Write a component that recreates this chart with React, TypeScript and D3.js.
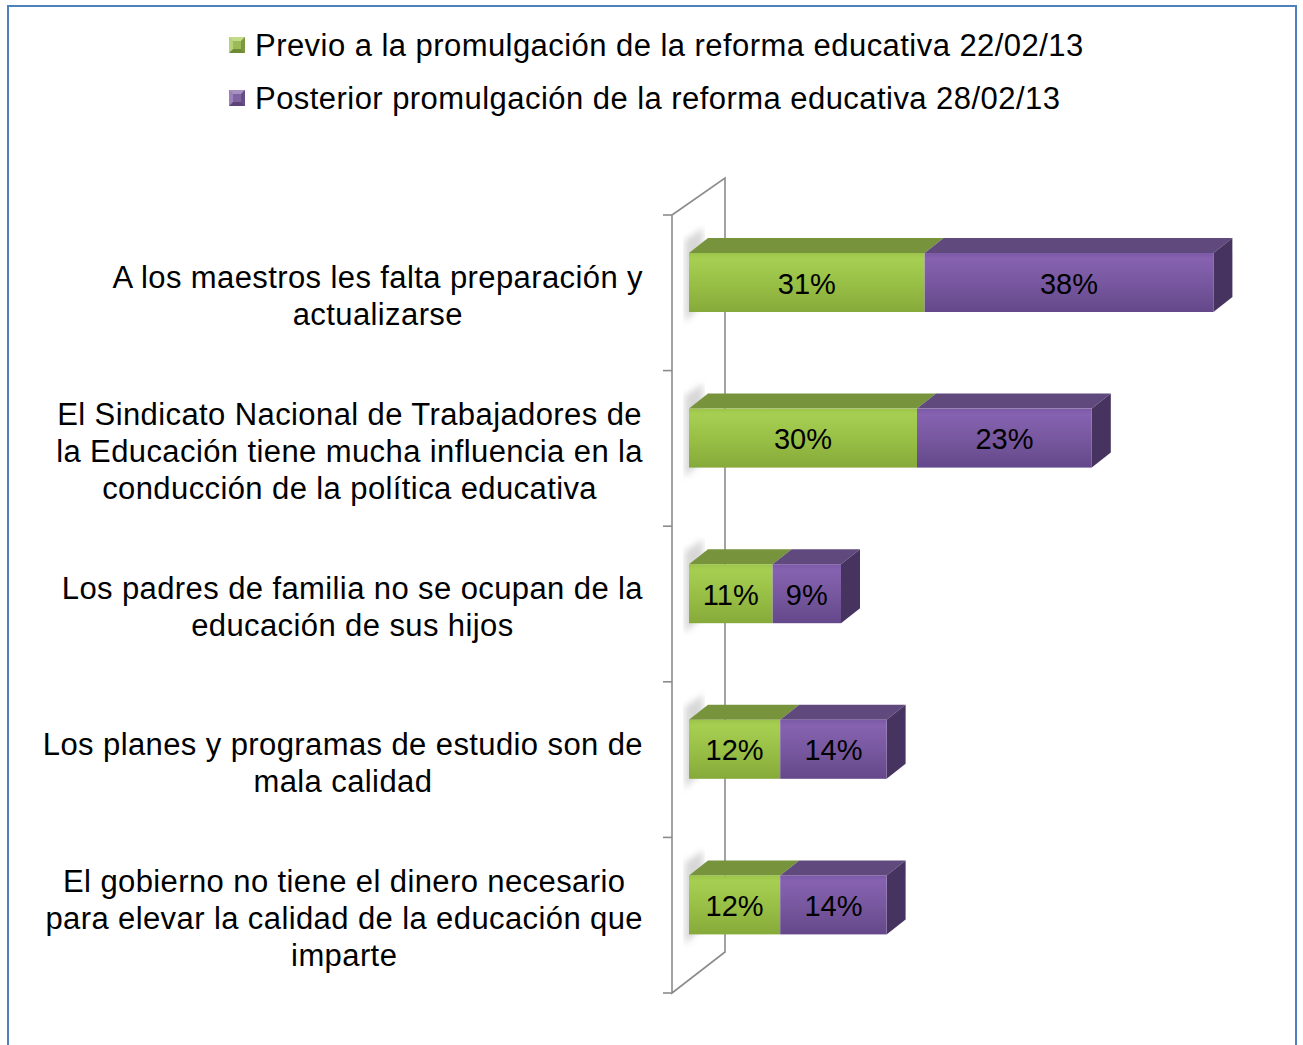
import { useEffect, useRef } from "react"
import * as d3 from "d3"

// categories (label lines), top to bottom
const categories = [
  ["A los maestros les falta preparación y", "actualizarse"],
  ["El Sindicato Nacional de Trabajadores de", "la Educación tiene mucha influencia en la", "conducción de la política educativa"],
  ["Los padres de familia no se ocupan de la", "educación de sus hijos"],
  ["Los planes y programas de estudio son de", "mala calidad"],
  ["El gobierno no tiene el dinero necesario", "para elevar la calidad de la educación que", "imparte"],
]
const seriesNames = [
  "Previo a la promulgación de la reforma educativa 22/02/13",
  "Posterior promulgación de la reforma educativa 28/02/13",
]
const previo = [31, 30, 11, 12, 12]
const posterior = [38, 23, 9, 14, 14]

const W = 1303
const H = 1045
const FONT = "'Liberation Sans', Arial, sans-serif"

export default function App() {
  const svgRef = useRef<SVGSVGElement>(null)

  useEffect(() => {
    if (!svgRef.current) return
    const root = d3.select(svgRef.current)
    root.selectAll("*").remove()

    const defs = root.append("defs")
    const grad = (id: string, stops: [number, string][]) => {
      const g = defs.append("linearGradient").attr("id", id).attr("x1", 0).attr("y1", 0).attr("x2", 0).attr("y2", 1)
      stops.forEach(([o, c]) => g.append("stop").attr("offset", o).attr("stop-color", c))
    }
    grad("gFront", [[0, "#9cc44a"], [0.1, "#a6cf52"], [0.5, "#99c046"], [1, "#86aa3a"]])
    grad("pFront", [[0, "#7c5aa8"], [0.1, "#8662b0"], [0.5, "#7858a0"], [1, "#64488a"]])
    defs.append("filter").attr("id", "blur").append("feGaussianBlur").attr("stdDeviation", 3)

    // chart frame
    root.append("rect").attr("width", W).attr("height", H).attr("fill", "white")
    root.append("path")
      .attr("d", `M8,${H} L8,6 L1296,6 L1296,${H}`)
      .attr("fill", "none").attr("stroke", "#4f81bd").attr("stroke-width", 2)

    // scales
    const x = d3.scaleLinear().domain([0, 70]).range([689, 689 + 7.6 * 70])
    const y = d3.scaleBand<number>().domain(d3.range(categories.length)).range([215, 993])
    const dx = 19
    const dy = -15
    const barH = 59
    const barOff = 38

    // 3D wall
    const wall = root.append("g").attr("fill", "none").attr("stroke", "#8c8c8c").attr("stroke-width", 1.6)
    const [y0, y1] = y.range()
    wall.append("path").attr("d", `M672,${y0} L725,${y0 - 37} L725,${y1 - 41} L672,${y1} Z`)
    const ticks = [...y.domain().map((d) => y(d)!), y1]
    wall.selectAll("line.tick").data(ticks).enter().append("line")
      .attr("x1", 663).attr("x2", 672).attr("y1", (d) => d).attr("y2", (d) => d)

    // bars
    const face = (x0: number, x1: number, yf: number) =>
      `M${x0},${yf} L${x1},${yf} L${x1 + dx},${yf + dy} L${x0 + dx},${yf + dy} Z`

    categories.forEach((_, i) => {
      const yf = y(i)! + barOff
      const g = root.append("g")
      // shadow on wall
      g.append("path")
        .attr("d", `M${x(0) - 4},${yf + dy + 2} L${x(0) + 14},${yf + dy - 10} L${x(0) + 14},${yf + barH - 8} L${x(0) - 4},${yf + barH + 10} Z`)
        .attr("fill", "#bdbdbd").attr("opacity", 0.6).attr("filter", "url(#blur)")

      const segs = [
        { v0: 0, v1: previo[i], front: "url(#gFront)", top: "#77933c", side: "#5e7a2c", val: previo[i] },
        { v0: previo[i], v1: previo[i] + posterior[i], front: "url(#pFront)", top: "#5f497d", side: "#46335f", val: posterior[i] },
      ]
      segs.forEach((s, k) => {
        const xa = x(s.v0)
        const xb = x(s.v1)
        g.append("path").attr("d", face(xa, xb, yf)).attr("fill", s.top)
        if (k === segs.length - 1) {
          g.append("path")
            .attr("d", `M${xb},${yf} L${xb + dx},${yf + dy} L${xb + dx},${yf + dy + barH} L${xb},${yf + barH} Z`)
            .attr("fill", s.side)
        }
        g.append("rect").attr("x", xa).attr("y", yf).attr("width", xb - xa).attr("height", barH).attr("fill", s.front)
        g.append("text")
          .attr("x", (xa + xb) / 2).attr("y", yf + barH / 2 + 1).attr("dy", "0.35em")
          .attr("text-anchor", "middle").attr("font-family", FONT).attr("font-size", 29).attr("fill", "#000")
          .text(`${s.val}%`)
      })
    })

    // category labels: centred lines, block right-aligned at x=643
    const lh = 37
    categories.forEach((lines, i) => {
      const cy = y(i)! + y.bandwidth() / 2 + 3
      const g = root.append("g")
      const texts = g.selectAll("text").data(lines).enter().append("text")
        .attr("y", (_, j) => cy + (j - (lines.length - 1) / 2) * lh).attr("dy", "0.35em")
        .attr("text-anchor", "middle").attr("font-family", FONT).attr("font-size", 31)
        .attr("letter-spacing", 0.4).attr("fill", "#000")
        .text((d) => d)
      let maxW = 0
      texts.each(function () {
        maxW = Math.max(maxW, (this as SVGTextElement).getComputedTextLength())
      })
      texts.attr("x", 643 - maxW / 2)
    })

    // legend
    const legendColors = [["#9bbb59", "#c3dc8a", "#6f8a34"], ["#8064a2", "#a790c2", "#5a4478"]]
    seriesNames.forEach((name, i) => {
      const cy = 45 + i * 53
      const lg = root.append("g").attr("transform", `translate(229, ${cy - 8})`)
      const [c, hi, lo] = legendColors[i]
      lg.append("rect").attr("width", 16).attr("height", 16).attr("fill", c)
      lg.append("path").attr("d", "M0,0 L16,0 L12,4 L4,4 Z").attr("fill", hi)
      lg.append("path").attr("d", "M0,16 L16,16 L12,12 L4,12 Z").attr("fill", lo)
      lg.append("path").attr("d", "M0,0 L4,4 L4,12 L0,16 Z").attr("fill", hi).attr("opacity", 0.7)
      lg.append("path").attr("d", "M16,0 L12,4 L12,12 L16,16 Z").attr("fill", lo).attr("opacity", 0.7)
      root.append("text")
        .attr("x", 255).attr("y", cy).attr("dy", "0.35em")
        .attr("font-family", FONT).attr("font-size", 31).attr("letter-spacing", 0.45).attr("fill", "#000")
        .text(name)
    })
  }, [])

  return (
    <svg
      ref={svgRef}
      width={W}
      height={H}
      style={{ position: "absolute", left: 0, top: 0, display: "block" }}
    ></svg>
  )
}
